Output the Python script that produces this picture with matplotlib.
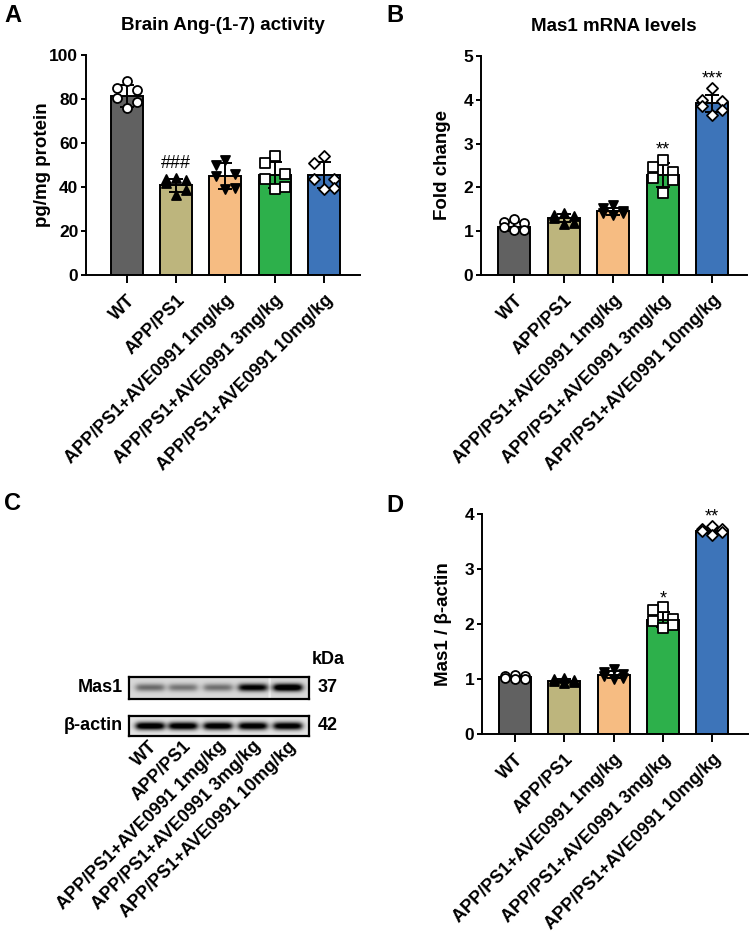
import numpy as np
import matplotlib
matplotlib.use("Agg")
import matplotlib.pyplot as plt

plt.rcParams["font.family"] = ["Liberation Sans", "DejaVu Sans"]
plt.rcParams["font.weight"] = "bold"
plt.rcParams["axes.titleweight"] = "bold"
plt.rcParams["axes.labelweight"] = "bold"
plt.rcParams["axes.linewidth"] = 1.4

GROUPS = ["WT", "APP/PS1", "APP/PS1+AVE0991 1mg/kg",
          "APP/PS1+AVE0991 3mg/kg", "APP/PS1+AVE0991 10mg/kg"]
COLORS = ["#616161", "#BDB57D", "#F6BC82", "#2DB04B", "#3D74B9"]
MARKERS = ["o", "^", "v", "s", "D"]
FILLED = [False, True, True, False, False]

# A: brain Ang-(1-7), pg/mg protein
ANG_MEAN = [81.5, 40.8, 45.0, 45.5, 45.5]
ANG_SD = [5.0, 3.0, 6.0, 6.0, 6.0]
ANG_POINTS = [[88, 85, 84, 80.5, 78.5, 76],
              [44, 43.5, 43, 42, 38.5, 36.5],
              [52.5, 50, 46, 45, 39.5, 39],
              [54, 51, 46, 43.5, 40, 39],
              [54, 51, 43.5, 43.5, 39.5, 39]]

# B: Mas1 mRNA, fold change
MRNA_MEAN = [1.1, 1.3, 1.45, 2.28, 3.92]
MRNA_SD = [0.1, 0.1, 0.07, 0.27, 0.2]
MRNA_POINTS = [[1.27, 1.2, 1.18, 1.1, 1.03, 1.03],
               [1.41, 1.38, 1.35, 1.29, 1.18, 1.16],
               [1.6, 1.52, 1.47, 1.42, 1.41, 1.37],
               [2.63, 2.47, 2.36, 2.21, 2.17, 1.88],
               [4.26, 4.0, 3.97, 3.86, 3.77, 3.65]]

# D: Mas1 / beta-actin densitometry
PROT_MEAN = [1.03, 0.97, 1.08, 2.08, 3.7]
PROT_SD = [0.03, 0.03, 0.06, 0.14, 0.05]
PROT_POINTS = [[1.08, 1.05, 1.05, 1.02, 1.0, 1.0],
               [1.02, 1.0, 0.98, 0.96, 0.95, 0.93],
               [1.18, 1.12, 1.1, 1.05, 1.02, 1.0],
               [2.31, 2.26, 2.1, 2.05, 1.98, 1.92],
               [3.78, 3.73, 3.72, 3.7, 3.68, 3.62]]

# western blot band strengths (0..1) per lane
MAS1_BAND = [0.4, 0.36, 0.38, 0.85, 1.0]
ACTIN_BAND = [1.0, 0.97, 0.97, 0.96, 0.95]
BLOT_KDA = ["37", "42"]

OFFSETS = [0.0, -0.2, 0.2, -0.2, 0.2, 0.0]

W, H = 750, 935
fig = plt.figure(figsize=(W / 100, H / 100), dpi=100)


def px_axes(x0, y0, x1, y1):
    return fig.add_axes([x0 / W, 1 - y1 / H, (x1 - x0) / W, (y1 - y0) / H])


def bar_panel(ax, means, sds, points, ymax, ystep, ylabel, title, xlim, lpad):
    x = np.arange(len(means))
    ax.bar(x, means, width=0.65, color=COLORS, edgecolor="black", linewidth=1.4, zorder=2)
    ax.errorbar(x, means, yerr=sds, fmt="none", ecolor="black", elinewidth=1.4,
                capsize=5, capthick=1.4, zorder=3)
    for i, pts in enumerate(points):
        xs = i + np.array(OFFSETS[:len(pts)])
        fc = "black" if FILLED[i] else "white"
        s = 32 if MARKERS[i] == "D" else 42
        ax.scatter(xs, pts, marker=MARKERS[i], s=s, facecolor=fc, edgecolor="black",
                   linewidth=1.3, zorder=4, clip_on=False)
    ax.set_ylim(0, ymax)
    ax.set_xlim(*xlim)
    ax.set_yticks(np.arange(0, ymax + ystep / 2, ystep))
    ax.set_xticks(x)
    ax.set_xticklabels(GROUPS, rotation=45, ha="right", rotation_mode="anchor",
                       fontsize=13, fontweight="bold")
    for lab in ax.get_yticklabels():
        lab.set_fontweight("bold")
    ax.tick_params(axis="y", labelsize=12.5, length=3.5, width=1.4, pad=2)
    ax.tick_params(axis="x", length=6, width=1.4, pad=6)
    for s in ("top", "right"):
        ax.spines[s].set_visible(False)
    ax.set_ylabel(ylabel, fontsize=13.5, labelpad=lpad)
    if title:
        ax.set_title(title, fontsize=13.5, pad=18)


axA = px_axes(86, 55, 360, 275)
bar_panel(axA, ANG_MEAN, ANG_SD, ANG_POINTS, 100, 20, "pg/mg protein",
          "Brain Ang-(1-7) activity", (-0.83, 4.73), -1)
axA.text(1, 50.5, "###", ha="center", va="center", fontsize=13, fontweight="normal")

axB = px_axes(481, 56, 747, 275)
bar_panel(axB, MRNA_MEAN, MRNA_SD, MRNA_POINTS, 5, 1, "Fold change",
          "Mas1 mRNA levels", (-0.67, 4.7), 9)
axB.text(3, 2.85, "**", ha="center", va="center", fontsize=13, fontweight="normal")
axB.text(4, 4.47, "***", ha="center", va="center", fontsize=13, fontweight="normal")

axD = px_axes(482, 514, 748, 734)
bar_panel(axD, PROT_MEAN, PROT_SD, PROT_POINTS, 4, 1, "Mas1 / β-actin",
          None, (-0.67, 4.73), 9)
axD.text(3, 2.45, "*", ha="center", va="center", fontsize=13, fontweight="normal")
axD.text(4, 3.95, "**", ha="center", va="center", fontsize=13, fontweight="normal")

# C: western blot strips
lane_x = np.array([150, 183, 218, 253, 288])
blot_x0, blot_x1 = 129, 309


def blot_strip(y0, y1, strengths, bg, vsig, seam=False):
    ax = px_axes(blot_x0, y0, blot_x1, y1)
    ncol, nrow = (blot_x1 - blot_x0) * 2, (y1 - y0) * 2
    cx = np.linspace(blot_x0, blot_x1, ncol)
    cy = np.linspace(0, 1, nrow)[:, None]
    img = np.full((nrow, ncol), bg)
    for lx, st in zip(lane_x, strengths):
        horiz = 1 / (1 + np.exp((np.abs(cx - lx) - 14) / 1.8))
        vert = np.exp(-((cy - 0.5) / vsig) ** 2)
        img = img - st * 1.1 * vert * horiz[None, :]
    if seam:
        img[:, np.abs(cx - 270) < 1.2] += 0.08
    ax.imshow(np.clip(img, 0, 1), cmap="gray", vmin=0, vmax=1, aspect="auto",
              interpolation="bilinear")
    ax.set_xticks([])
    ax.set_yticks([])
    for s in ax.spines.values():
        s.set_linewidth(1.6)
    return ax


blot_strip(677, 699, MAS1_BAND, 0.85, 0.17, seam=True)
blot_strip(716, 736, ACTIN_BAND, 0.9, 0.2)
fig.text(123 / W, 1 - 688 / H, "Mas1", ha="right", va="center", fontsize=13)
fig.text(123 / W, 1 - 726 / H, "β-actin", ha="right", va="center", fontsize=13)
fig.text(318 / W, 1 - 688 / H, BLOT_KDA[0], ha="left", va="center", fontsize=13)
fig.text(318 / W, 1 - 726 / H, BLOT_KDA[1], ha="left", va="center", fontsize=13)
fig.text(312 / W, 1 - 659 / H, "kDa", ha="left", va="center", fontsize=13)
for lx, name in zip(lane_x, GROUPS):
    fig.text((lx - 1) / W, 1 - 738 / H, name, rotation=45, ha="right", va="top",
             rotation_mode="anchor", fontsize=13)

# panel letters
for letter, x, y in [("A", 4, 16), ("B", 386, 16), ("C", 4, 503), ("D", 386, 505)]:
    fig.text(x / W, 1 - y / H, letter, ha="left", va="center", fontsize=17)

fig.savefig("out.png", dpi=100)
